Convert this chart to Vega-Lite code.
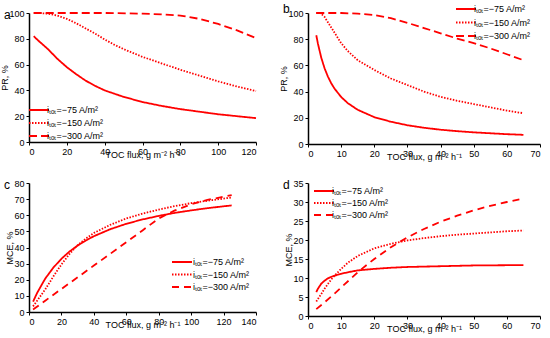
{
  "$schema": "https://vega.github.io/schema/vega-lite/v6.json",
  "padding": {"left": 0, "top": 3, "right": 5, "bottom": 5},
  "background": "white",
  "bounds": "flush",
  "columns": 2,
  "spacing": {"row": 39, "column": 52},
  "resolve": {"scale": {"strokeDash": "independent", "x": "independent", "y": "independent"}, "legend": {"strokeDash": "independent"}},
  "datasets": {
    "a": [
      {"x": 2.5, "y": 82, "s": "iₜₒₜ=−75 A/m²"}, {"x": 5, "y": 78.5, "s": "iₜₒₜ=−75 A/m²"}, {"x": 10, "y": 72, "s": "iₜₒₜ=−75 A/m²"}, {"x": 15, "y": 64.5, "s": "iₜₒₜ=−75 A/m²"}, {"x": 20, "y": 58, "s": "iₜₒₜ=−75 A/m²"}, {"x": 25, "y": 52.5, "s": "iₜₒₜ=−75 A/m²"}, {"x": 30, "y": 47.5, "s": "iₜₒₜ=−75 A/m²"}, {"x": 35, "y": 43.5, "s": "iₜₒₜ=−75 A/m²"}, {"x": 40, "y": 40, "s": "iₜₒₜ=−75 A/m²"}, {"x": 50, "y": 35, "s": "iₜₒₜ=−75 A/m²"}, {"x": 60, "y": 31, "s": "iₜₒₜ=−75 A/m²"}, {"x": 70, "y": 28, "s": "iₜₒₜ=−75 A/m²"}, {"x": 80, "y": 25.5, "s": "iₜₒₜ=−75 A/m²"}, {"x": 90, "y": 23.5, "s": "iₜₒₜ=−75 A/m²"}, {"x": 100, "y": 21.5, "s": "iₜₒₜ=−75 A/m²"}, {"x": 110, "y": 20, "s": "iₜₒₜ=−75 A/m²"}, {"x": 120, "y": 18.5, "s": "iₜₒₜ=−75 A/m²"},
      {"x": 2.5, "y": 100, "s": "iₜₒₜ=−150 A/m²"}, {"x": 5, "y": 100, "s": "iₜₒₜ=−150 A/m²"}, {"x": 10, "y": 99.5, "s": "iₜₒₜ=−150 A/m²"}, {"x": 15, "y": 98, "s": "iₜₒₜ=−150 A/m²"}, {"x": 20, "y": 95.5, "s": "iₜₒₜ=−150 A/m²"}, {"x": 25, "y": 92, "s": "iₜₒₜ=−150 A/m²"}, {"x": 30, "y": 88, "s": "iₜₒₜ=−150 A/m²"}, {"x": 35, "y": 84, "s": "iₜₒₜ=−150 A/m²"}, {"x": 40, "y": 79.5, "s": "iₜₒₜ=−150 A/m²"}, {"x": 45, "y": 75.5, "s": "iₜₒₜ=−150 A/m²"}, {"x": 50, "y": 72, "s": "iₜₒₜ=−150 A/m²"}, {"x": 60, "y": 66, "s": "iₜₒₜ=−150 A/m²"}, {"x": 70, "y": 61, "s": "iₜₒₜ=−150 A/m²"}, {"x": 80, "y": 56, "s": "iₜₒₜ=−150 A/m²"}, {"x": 90, "y": 51.5, "s": "iₜₒₜ=−150 A/m²"}, {"x": 100, "y": 47, "s": "iₜₒₜ=−150 A/m²"}, {"x": 110, "y": 43, "s": "iₜₒₜ=−150 A/m²"}, {"x": 120, "y": 39.5, "s": "iₜₒₜ=−150 A/m²"},
      {"x": 2.5, "y": 100, "s": "iₜₒₜ=−300 A/m²"}, {"x": 20, "y": 100, "s": "iₜₒₜ=−300 A/m²"}, {"x": 40, "y": 100, "s": "iₜₒₜ=−300 A/m²"}, {"x": 60, "y": 99.5, "s": "iₜₒₜ=−300 A/m²"}, {"x": 70, "y": 99, "s": "iₜₒₜ=−300 A/m²"}, {"x": 80, "y": 98, "s": "iₜₒₜ=−300 A/m²"}, {"x": 90, "y": 95.5, "s": "iₜₒₜ=−300 A/m²"}, {"x": 100, "y": 91.5, "s": "iₜₒₜ=−300 A/m²"}, {"x": 110, "y": 86.5, "s": "iₜₒₜ=−300 A/m²"}, {"x": 120, "y": 80.5, "s": "iₜₒₜ=−300 A/m²"}
    ],
    "b": [
      {"x": 2.5, "y": 83, "s": "iₜₒₜ=−75 A/m²"}, {"x": 3, "y": 76.5, "s": "iₜₒₜ=−75 A/m²"}, {"x": 4, "y": 65.9, "s": "iₜₒₜ=−75 A/m²"}, {"x": 5, "y": 57.8, "s": "iₜₒₜ=−75 A/m²"}, {"x": 6, "y": 51.5, "s": "iₜₒₜ=−75 A/m²"}, {"x": 7, "y": 46.4, "s": "iₜₒₜ=−75 A/m²"}, {"x": 8, "y": 42.3, "s": "iₜₒₜ=−75 A/m²"}, {"x": 10, "y": 35.9, "s": "iₜₒₜ=−75 A/m²"}, {"x": 12, "y": 31.2, "s": "iₜₒₜ=−75 A/m²"}, {"x": 15, "y": 26.1, "s": "iₜₒₜ=−75 A/m²"}, {"x": 20, "y": 20.5, "s": "iₜₒₜ=−75 A/m²"}, {"x": 25, "y": 17, "s": "iₜₒₜ=−75 A/m²"}, {"x": 30, "y": 14.3, "s": "iₜₒₜ=−75 A/m²"}, {"x": 35, "y": 12.4, "s": "iₜₒₜ=−75 A/m²"}, {"x": 40, "y": 10.9, "s": "iₜₒₜ=−75 A/m²"}, {"x": 45, "y": 9.8, "s": "iₜₒₜ=−75 A/m²"}, {"x": 50, "y": 8.9, "s": "iₜₒₜ=−75 A/m²"}, {"x": 55, "y": 8.2, "s": "iₜₒₜ=−75 A/m²"}, {"x": 60, "y": 7.5, "s": "iₜₒₜ=−75 A/m²"}, {"x": 65, "y": 7, "s": "iₜₒₜ=−75 A/m²"},
      {"x": 2.5, "y": 100, "s": "iₜₒₜ=−150 A/m²"}, {"x": 3.5, "y": 100, "s": "iₜₒₜ=−150 A/m²"}, {"x": 4, "y": 99.3, "s": "iₜₒₜ=−150 A/m²"}, {"x": 5, "y": 97, "s": "iₜₒₜ=−150 A/m²"}, {"x": 6, "y": 93, "s": "iₜₒₜ=−150 A/m²"}, {"x": 7, "y": 89, "s": "iₜₒₜ=−150 A/m²"}, {"x": 8, "y": 85, "s": "iₜₒₜ=−150 A/m²"}, {"x": 10, "y": 77, "s": "iₜₒₜ=−150 A/m²"}, {"x": 12, "y": 71, "s": "iₜₒₜ=−150 A/m²"}, {"x": 15, "y": 64, "s": "iₜₒₜ=−150 A/m²"}, {"x": 20, "y": 56.5, "s": "iₜₒₜ=−150 A/m²"}, {"x": 25, "y": 50, "s": "iₜₒₜ=−150 A/m²"}, {"x": 30, "y": 45, "s": "iₜₒₜ=−150 A/m²"}, {"x": 35, "y": 40, "s": "iₜₒₜ=−150 A/m²"}, {"x": 40, "y": 36, "s": "iₜₒₜ=−150 A/m²"}, {"x": 45, "y": 33, "s": "iₜₒₜ=−150 A/m²"}, {"x": 50, "y": 30.5, "s": "iₜₒₜ=−150 A/m²"}, {"x": 55, "y": 28, "s": "iₜₒₜ=−150 A/m²"}, {"x": 60, "y": 25.5, "s": "iₜₒₜ=−150 A/m²"}, {"x": 65, "y": 23.5, "s": "iₜₒₜ=−150 A/m²"},
      {"x": 2.5, "y": 100, "s": "iₜₒₜ=−300 A/m²"}, {"x": 10, "y": 100, "s": "iₜₒₜ=−300 A/m²"}, {"x": 15, "y": 99.5, "s": "iₜₒₜ=−300 A/m²"}, {"x": 20, "y": 98.5, "s": "iₜₒₜ=−300 A/m²"}, {"x": 25, "y": 96, "s": "iₜₒₜ=−300 A/m²"}, {"x": 30, "y": 92.5, "s": "iₜₒₜ=−300 A/m²"}, {"x": 35, "y": 88.5, "s": "iₜₒₜ=−300 A/m²"}, {"x": 40, "y": 84.5, "s": "iₜₒₜ=−300 A/m²"}, {"x": 45, "y": 80.5, "s": "iₜₒₜ=−300 A/m²"}, {"x": 50, "y": 77, "s": "iₜₒₜ=−300 A/m²"}, {"x": 55, "y": 73, "s": "iₜₒₜ=−300 A/m²"}, {"x": 60, "y": 68.5, "s": "iₜₒₜ=−300 A/m²"}, {"x": 65, "y": 64, "s": "iₜₒₜ=−300 A/m²"}
    ],
    "c": [
      {"x": 2.5, "y": 6.4, "s": "iₜₒₜ=−75 A/m²"}, {"x": 5, "y": 11.8, "s": "iₜₒₜ=−75 A/m²"}, {"x": 10, "y": 20.7, "s": "iₜₒₜ=−75 A/m²"}, {"x": 15, "y": 27.5, "s": "iₜₒₜ=−75 A/m²"}, {"x": 20, "y": 33, "s": "iₜₒₜ=−75 A/m²"}, {"x": 25, "y": 37.5, "s": "iₜₒₜ=−75 A/m²"}, {"x": 30, "y": 41.2, "s": "iₜₒₜ=−75 A/m²"}, {"x": 35, "y": 44.3, "s": "iₜₒₜ=−75 A/m²"}, {"x": 40, "y": 47, "s": "iₜₒₜ=−75 A/m²"}, {"x": 50, "y": 51.3, "s": "iₜₒₜ=−75 A/m²"}, {"x": 60, "y": 54.7, "s": "iₜₒₜ=−75 A/m²"}, {"x": 70, "y": 57.4, "s": "iₜₒₜ=−75 A/m²"}, {"x": 80, "y": 59.6, "s": "iₜₒₜ=−75 A/m²"}, {"x": 90, "y": 61.5, "s": "iₜₒₜ=−75 A/m²"}, {"x": 100, "y": 63, "s": "iₜₒₜ=−75 A/m²"}, {"x": 110, "y": 64.4, "s": "iₜₒₜ=−75 A/m²"}, {"x": 125, "y": 66.1, "s": "iₜₒₜ=−75 A/m²"},
      {"x": 2.5, "y": 3.5, "s": "iₜₒₜ=−150 A/m²"}, {"x": 5, "y": 7, "s": "iₜₒₜ=−150 A/m²"}, {"x": 10, "y": 14, "s": "iₜₒₜ=−150 A/m²"}, {"x": 15, "y": 22, "s": "iₜₒₜ=−150 A/m²"}, {"x": 20, "y": 29.5, "s": "iₜₒₜ=−150 A/m²"}, {"x": 25, "y": 36, "s": "iₜₒₜ=−150 A/m²"}, {"x": 30, "y": 41.5, "s": "iₜₒₜ=−150 A/m²"}, {"x": 35, "y": 45.5, "s": "iₜₒₜ=−150 A/m²"}, {"x": 40, "y": 49, "s": "iₜₒₜ=−150 A/m²"}, {"x": 50, "y": 54, "s": "iₜₒₜ=−150 A/m²"}, {"x": 60, "y": 58, "s": "iₜₒₜ=−150 A/m²"}, {"x": 70, "y": 61, "s": "iₜₒₜ=−150 A/m²"}, {"x": 80, "y": 63.5, "s": "iₜₒₜ=−150 A/m²"}, {"x": 90, "y": 65.7, "s": "iₜₒₜ=−150 A/m²"}, {"x": 100, "y": 67.5, "s": "iₜₒₜ=−150 A/m²"}, {"x": 110, "y": 69, "s": "iₜₒₜ=−150 A/m²"}, {"x": 125, "y": 71, "s": "iₜₒₜ=−150 A/m²"},
      {"x": 2.5, "y": 1.5, "s": "iₜₒₜ=−300 A/m²"}, {"x": 10, "y": 7, "s": "iₜₒₜ=−300 A/m²"}, {"x": 20, "y": 14.3, "s": "iₜₒₜ=−300 A/m²"}, {"x": 30, "y": 21.5, "s": "iₜₒₜ=−300 A/m²"}, {"x": 40, "y": 28.8, "s": "iₜₒₜ=−300 A/m²"}, {"x": 50, "y": 36, "s": "iₜₒₜ=−300 A/m²"}, {"x": 60, "y": 43.3, "s": "iₜₒₜ=−300 A/m²"}, {"x": 70, "y": 50.6, "s": "iₜₒₜ=−300 A/m²"}, {"x": 80, "y": 58, "s": "iₜₒₜ=−300 A/m²"}, {"x": 90, "y": 63, "s": "iₜₒₜ=−300 A/m²"}, {"x": 100, "y": 66.8, "s": "iₜₒₜ=−300 A/m²"}, {"x": 110, "y": 69.5, "s": "iₜₒₜ=−300 A/m²"}, {"x": 120, "y": 71.5, "s": "iₜₒₜ=−300 A/m²"}, {"x": 125, "y": 72.5, "s": "iₜₒₜ=−300 A/m²"}
    ],
    "d": [
      {"x": 2.5, "y": 6.3, "s": "iₜₒₜ=−75 A/m²"}, {"x": 3, "y": 7.2, "s": "iₜₒₜ=−75 A/m²"}, {"x": 4, "y": 8.5, "s": "iₜₒₜ=−75 A/m²"}, {"x": 5, "y": 9.3, "s": "iₜₒₜ=−75 A/m²"}, {"x": 6, "y": 9.9, "s": "iₜₒₜ=−75 A/m²"}, {"x": 7, "y": 10.3, "s": "iₜₒₜ=−75 A/m²"}, {"x": 8, "y": 10.6, "s": "iₜₒₜ=−75 A/m²"}, {"x": 10, "y": 11.1, "s": "iₜₒₜ=−75 A/m²"}, {"x": 12, "y": 11.5, "s": "iₜₒₜ=−75 A/m²"}, {"x": 15, "y": 12, "s": "iₜₒₜ=−75 A/m²"}, {"x": 20, "y": 12.4, "s": "iₜₒₜ=−75 A/m²"}, {"x": 25, "y": 12.7, "s": "iₜₒₜ=−75 A/m²"}, {"x": 30, "y": 12.9, "s": "iₜₒₜ=−75 A/m²"}, {"x": 40, "y": 13.1, "s": "iₜₒₜ=−75 A/m²"}, {"x": 50, "y": 13.3, "s": "iₜₒₜ=−75 A/m²"}, {"x": 65, "y": 13.4, "s": "iₜₒₜ=−75 A/m²"},
      {"x": 2.5, "y": 3.8, "s": "iₜₒₜ=−150 A/m²"}, {"x": 4, "y": 5.8, "s": "iₜₒₜ=−150 A/m²"}, {"x": 5, "y": 7.2, "s": "iₜₒₜ=−150 A/m²"}, {"x": 6, "y": 8.4, "s": "iₜₒₜ=−150 A/m²"}, {"x": 7, "y": 9.6, "s": "iₜₒₜ=−150 A/m²"}, {"x": 8, "y": 10.6, "s": "iₜₒₜ=−150 A/m²"}, {"x": 10, "y": 12.4, "s": "iₜₒₜ=−150 A/m²"}, {"x": 12, "y": 14, "s": "iₜₒₜ=−150 A/m²"}, {"x": 15, "y": 15.8, "s": "iₜₒₜ=−150 A/m²"}, {"x": 20, "y": 17.8, "s": "iₜₒₜ=−150 A/m²"}, {"x": 25, "y": 19, "s": "iₜₒₜ=−150 A/m²"}, {"x": 30, "y": 19.9, "s": "iₜₒₜ=−150 A/m²"}, {"x": 35, "y": 20.5, "s": "iₜₒₜ=−150 A/m²"}, {"x": 40, "y": 21, "s": "iₜₒₜ=−150 A/m²"}, {"x": 45, "y": 21.4, "s": "iₜₒₜ=−150 A/m²"}, {"x": 50, "y": 21.7, "s": "iₜₒₜ=−150 A/m²"}, {"x": 55, "y": 22, "s": "iₜₒₜ=−150 A/m²"}, {"x": 60, "y": 22.3, "s": "iₜₒₜ=−150 A/m²"}, {"x": 65, "y": 22.5, "s": "iₜₒₜ=−150 A/m²"},
      {"x": 2.5, "y": 1.8, "s": "iₜₒₜ=−300 A/m²"}, {"x": 5, "y": 3.6, "s": "iₜₒₜ=−300 A/m²"}, {"x": 7.5, "y": 5.5, "s": "iₜₒₜ=−300 A/m²"}, {"x": 10, "y": 7.5, "s": "iₜₒₜ=−300 A/m²"}, {"x": 12.5, "y": 9.5, "s": "iₜₒₜ=−300 A/m²"}, {"x": 15, "y": 11.5, "s": "iₜₒₜ=−300 A/m²"}, {"x": 17.5, "y": 13.3, "s": "iₜₒₜ=−300 A/m²"}, {"x": 20, "y": 15, "s": "iₜₒₜ=−300 A/m²"}, {"x": 25, "y": 18.1, "s": "iₜₒₜ=−300 A/m²"}, {"x": 30, "y": 20.7, "s": "iₜₒₜ=−300 A/m²"}, {"x": 35, "y": 22.9, "s": "iₜₒₜ=−300 A/m²"}, {"x": 40, "y": 24.8, "s": "iₜₒₜ=−300 A/m²"}, {"x": 45, "y": 26.4, "s": "iₜₒₜ=−300 A/m²"}, {"x": 50, "y": 27.8, "s": "iₜₒₜ=−300 A/m²"}, {"x": 55, "y": 29, "s": "iₜₒₜ=−300 A/m²"}, {"x": 60, "y": 30, "s": "iₜₒₜ=−300 A/m²"}, {"x": 65, "y": 30.9, "s": "iₜₒₜ=−300 A/m²"}
    ]
  },
  "concat": [
    {
      "width": 227, "height": 129,
      "title": {"text": "a", "anchor": "start", "frame": "group", "dx": -25, "dy": 17},
      "data": {"name": "a"},
      "mark": {"type": "line", "color": "#ff0000", "strokeWidth": 1.8},
      "encoding": {
        "x": {"field": "x", "type": "quantitative", "scale": {"domain": [0, 120], "nice": false}, "axis": {"values": [0, 20, 40, 60, 80, 100, 120], "title": "TOC flux, g m⁻² h⁻¹"}},
        "y": {"field": "y", "type": "quantitative", "scale": {"domain": [0, 100], "nice": false}, "axis": {"values": [0, 20, 40, 60, 80, 100], "title": "PR, %"}},
        "strokeDash": {"field": "s", "type": "nominal", "scale": {"domain": ["iₜₒₜ=−75 A/m²", "iₜₒₜ=−150 A/m²", "iₜₒₜ=−300 A/m²"], "range": [[1, 0], [1.5, 1.5], [8, 4]]}, "legend": {"legendX": 4, "legendY": 91}}
      }
    },
    {
      "width": 232, "height": 131,
      "title": {"text": "b", "anchor": "start", "frame": "group", "dx": -25, "dy": 17},
      "data": {"name": "b"},
      "mark": {"type": "line", "color": "#ff0000", "strokeWidth": 1.8},
      "encoding": {
        "x": {"field": "x", "type": "quantitative", "scale": {"domain": [0, 70], "nice": false}, "axis": {"values": [0, 10, 20, 30, 40, 50, 60, 70], "title": "TOC flux, g m⁻² h⁻¹"}},
        "y": {"field": "y", "type": "quantitative", "scale": {"domain": [0, 100], "nice": false}, "axis": {"values": [0, 20, 40, 60, 80, 100], "title": "PR, %"}},
        "strokeDash": {"field": "s", "type": "nominal", "scale": {"domain": ["iₜₒₜ=−75 A/m²", "iₜₒₜ=−150 A/m²", "iₜₒₜ=−300 A/m²"], "range": [[1, 0], [1.5, 1.5], [8, 4]]}, "legend": {"legendX": 152, "legendY": -10, "rowPadding": 2.5}}
      }
    },
    {
      "width": 227, "height": 129,
      "title": {"text": "c", "anchor": "start", "frame": "group", "dx": -25, "dy": 17},
      "data": {"name": "c"},
      "mark": {"type": "line", "color": "#ff0000", "strokeWidth": 1.8},
      "encoding": {
        "x": {"field": "x", "type": "quantitative", "scale": {"domain": [0, 140], "nice": false}, "axis": {"values": [0, 20, 40, 60, 80, 100, 120, 140], "title": "TOC flux, g m⁻² h⁻¹"}},
        "y": {"field": "y", "type": "quantitative", "scale": {"domain": [0, 80], "nice": false}, "axis": {"values": [0, 10, 20, 30, 40, 50, 60, 70, 80], "title": "MCE, %"}},
        "strokeDash": {"field": "s", "type": "nominal", "scale": {"domain": ["iₜₒₜ=−75 A/m²", "iₜₒₜ=−150 A/m²", "iₜₒₜ=−300 A/m²"], "range": [[1, 0], [1.5, 1.5], [7, 5]]}, "legend": {"legendX": 147, "legendY": 73, "labelOffset": 5, "rowPadding": 1.5}}
      }
    },
    {
      "width": 232, "height": 133,
      "title": {"text": "d", "anchor": "start", "frame": "group", "dx": -25, "dy": 17},
      "data": {"name": "d"},
      "mark": {"type": "line", "color": "#ff0000", "strokeWidth": 1.8},
      "encoding": {
        "x": {"field": "x", "type": "quantitative", "scale": {"domain": [0, 70], "nice": false}, "axis": {"values": [0, 10, 20, 30, 40, 50, 60, 70], "title": "TOC flux, g m⁻² h⁻¹"}},
        "y": {"field": "y", "type": "quantitative", "scale": {"domain": [0, 35], "nice": false}, "axis": {"values": [0, 5, 10, 15, 20, 25, 30, 35], "title": "MCE, %"}},
        "strokeDash": {"field": "s", "type": "nominal", "scale": {"domain": ["iₜₒₜ=−75 A/m²", "iₜₒₜ=−150 A/m²", "iₜₒₜ=−300 A/m²"], "range": [[1, 0], [1.5, 1.5], [7, 5]]}, "legend": {"legendX": 10, "legendY": 2, "rowPadding": 1}}
      }
    }
  ],
  "config": {
    "font": "Liberation Sans",
    "view": {"stroke": null},
    "title": {"fontSize": 12, "fontWeight": "normal", "color": "black", "font": "Liberation Sans", "offset": 0},
    "axis": {
      "grid": false, "domainColor": "black", "domainWidth": 1.5, "tickColor": "black", "tickSize": 3, "tickWidth": 1,
      "labelColor": "black", "labelFont": "Liberation Sans", "labelFontSize": 9, "labelPadding": 2,
      "titleColor": "black", "titleFont": "Liberation Sans", "titleFontSize": 9, "titleFontWeight": "normal"
    },
    "axisX": {"titlePadding": -6},
    "axisY": {"titlePadding": -1},
    "legend": {
      "orient": "none", "title": null, "symbolType": "M-2,0H2", "symbolStrokeColor": "#ff0000", "symbolStrokeWidth": 2, "symbolSize": 100,
      "labelFont": "Liberation Sans", "labelFontSize": 9, "labelColor": "black", "padding": 0, "rowPadding": 2, "labelOffset": 2
    }
  }
}
